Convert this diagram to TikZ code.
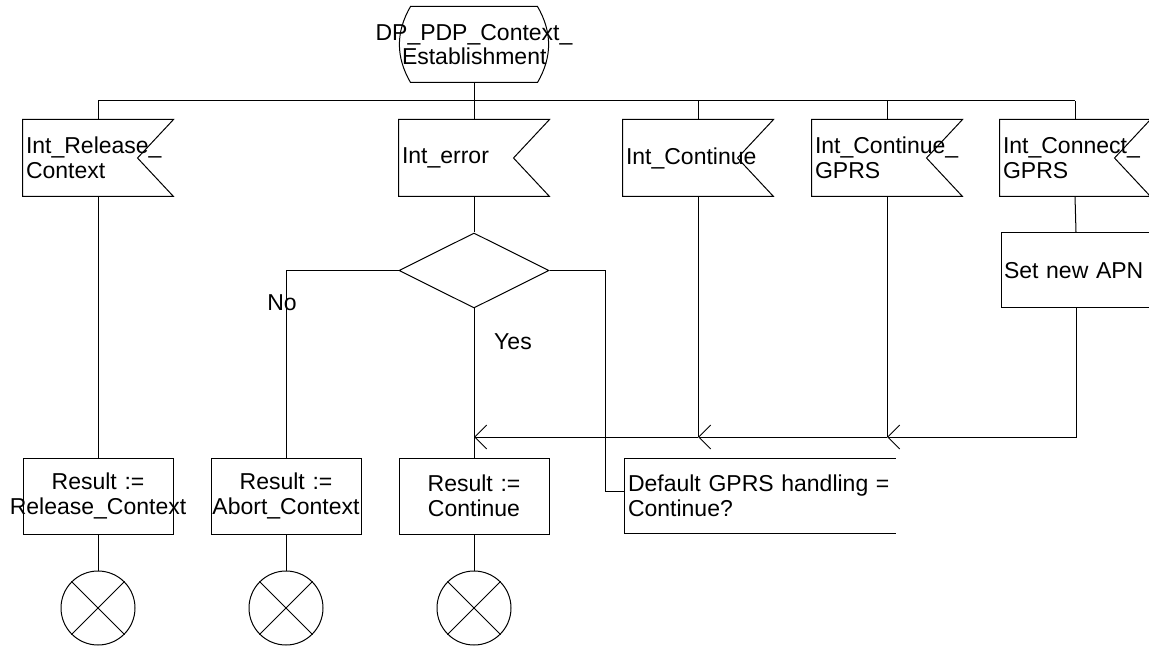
\documentclass[tikz,border=0pt]{standalone}
\usepackage{fontspec}
\setmainfont{Liberation Sans}
\usetikzlibrary{arrows.meta,shapes.geometric}

\begin{document}
\begin{tikzpicture}[x=0.5pt,y=-0.5pt,line width=0.5pt,
    >={Straight Barb[length=6pt,width=12pt]},
    font=\fontsize{11.5}{12.3}\selectfont,
    sigin/.style={minimum width=75pt,minimum height=38pt,inner sep=1.5pt,
                  text width=72pt,align=left},
    task/.style={draw,minimum width=75pt,minimum height=38pt,inner sep=1.5pt,
                 text width=72pt,align=center},
    stopx/.style={draw,circle,minimum size=37pt,inner sep=0pt}]
  \useasboundingbox (0,0) rectangle (1149,646);
  % procedure start
  \node[minimum width=75pt,minimum height=37.5pt,inner sep=1.5pt,text width=72pt,
        align=center] (st) at (474,44.5)
       {\makebox[\linewidth]{DP\_PDP\_Context\_}\\Establishment};
  \draw ([xshift=6pt]st.north west) -- ([xshift=-6pt]st.north east)
        to[out=-60,in=60] ([xshift=-6pt]st.south east)
        -- ([xshift=6pt]st.south west) to[out=120,in=-120] cycle;
  % input signals
  \node[sigin] (rel)  at (98,158)   {Int\_Release\_\\Context};
  \node[sigin] (err)  at (474,158)  {Int\_error};
  \node[sigin] (cont) at (698,158)  {Int\_Continue};
  \node[sigin] (cgp)  at (887,158)  {Int\_Continue\_\\GPRS};
  \node[sigin] (conn) at (1075,158) {Int\_Connect\_\\GPRS};
  \foreach \n in {rel,err,cont,cgp,conn}
    \draw (\n.north west) -- (\n.north east) -- ([xshift=-18pt]\n.east)
          -- (\n.south east) -- (\n.south west) -- cycle;
  \coordinate (busL) at (98,101);
  \coordinate (busR) at (1075,101);
  \draw (busL) -- (busR);
  \foreach \n in {rel,cont,cgp,conn}
    \draw (\n.north) -- (\n.north |- busL);
  \draw (st.south) -- (err.north);
  % decision
  \node[draw,diamond,minimum width=75pt,minimum height=37.5pt,inner sep=0pt]
       (dec) at (474,270.5) {};
  \node (no)  at (282,303) {No};
  \node (yes) at (513,342) {Yes};
  \node[draw,minimum width=75pt,minimum height=37.5pt,inner sep=1.5pt,
        text width=72pt,align=left] (apn) at (1076,270.5) {Set new APN};
  % tasks
  \node[task] (rrel)  at (98,496)  {Result :=\\\makebox[\linewidth]{Release\_Context}};
  \node[task] (rabt)  at (286,496) {Result :=\\\makebox[\linewidth]{Abort\_Context}};
  \node[task] (rcont) at (474,496) {Result :=\\Continue};
  \node[minimum height=37pt,inner sep=1.5pt,text width=132pt,align=left]
       (dflt) at (760,496) {Default GPRS handling =\\Continue?};
  \draw (dflt.north east) -- (dflt.north west) -- (dflt.south west) -- (dflt.south east);
  % stops
  \node[stopx] (x1) at (98,608)  {};
  \node[stopx] (x2) at (286,608) {};
  \node[stopx] (x3) at (474,608) {};
  \foreach \n in {x1,x2,x3}
    \draw (\n.north west) -- (\n.south east) (\n.north east) -- (\n.south west);
  % flow lines
  \coordinate (j1) at (474,437);
  \coordinate (j2) at (698,437);
  \coordinate (j3) at (887,437);
  \coordinate (dj) at (605,491);
  \draw (err.south) -- (dec.north);
  \draw (dec.west) -| (rabt.north);
  \draw (dec.east) -| (dj) -- (dflt.west |- dj);
  \draw (dec.south) -- (rcont.north);
  \draw (rel.south) -- (rrel.north);
  \draw (conn.south) -- (apn.north);
  \draw[->] (apn.south) |- (j3);
  \draw (cgp.south) -- (j3);
  \draw[->] (j3) -- (j2);
  \draw (cont.south) -- (j2);
  \draw[->] (j2) -- (j1);
  \draw (rrel.south) -- (x1.north);
  \draw (rabt.south) -- (x2.north);
  \draw (rcont.south) -- (x3.north);
\end{tikzpicture}
\end{document}
